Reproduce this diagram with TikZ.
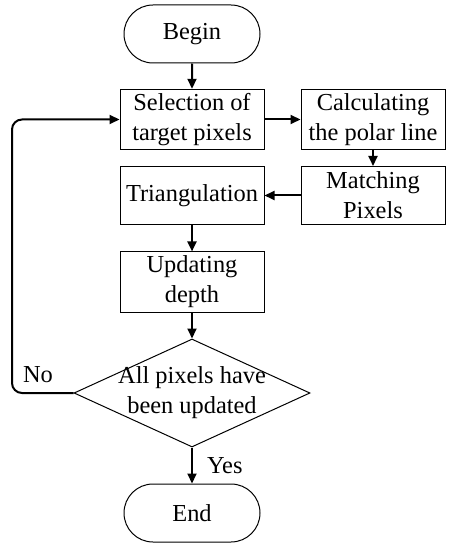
\documentclass[tikz,border=0pt]{standalone}
\usepackage{fontspec}
\setmainfont{Liberation Serif}
\usepackage{tikz}
\usetikzlibrary{arrows.meta,positioning,shapes.geometric,shapes.misc}
\definecolor{cInk}{HTML}{000000}
\tikzset{
  pbox/.style={draw=cInk,line width=0.5pt,minimum width=72pt,minimum height=29pt,align=center,font=\fontsize{12.2}{15}\selectfont,inner sep=2pt,text=cInk},
  tbox/.style={pbox,rounded rectangle},
  dbox/.style={draw=cInk,line width=0.5pt,diamond,minimum width=118pt,minimum height=54pt,inner sep=0pt},
  arr/.style={-{Triangle[length=5pt,width=4.5pt]},line width=1pt,color=cInk},
  lbl/.style={font=\fontsize{12.2}{15}\selectfont,text=cInk,inner sep=1pt},
}

\begin{document}
\begin{tikzpicture}[x=0.5pt,y=-0.5pt]
  \useasboundingbox (0,0) rectangle (454,550);
  \node[tbox] (begin) at (192,34) {Begin};
  \node[pbox] (sel) at (192,119.5) {Selection of\\target pixels};
  \node[pbox] (calc) at (373,119.5) {Calculating\\the polar line};
  \node[pbox] (match) at (373,195.5) {Matching\\Pixels};
  \node[pbox] (tri) at (192,195.5) {Triangulation};
  \node[pbox] (upd) at (192,282) {Updating\\depth};
  \node[dbox,label={[lbl,align=center]center:All pixels have\\been updated}] (check) at (192,393) {};
  \node[tbox] (end) at (192,513) {End};
  \coordinate (back) at (12,393);
  \node[lbl] (no) at (38,375) {No};
  \draw[arr] (begin) -- (sel);
  \draw[arr] (sel) -- (calc);
  \draw[arr] (calc) -- (match);
  \draw[arr] (match) -- (tri);
  \draw[arr] (tri) -- (upd);
  \draw[arr] (upd) -- (check);
  \draw[arr] (check) -- node[lbl,right=6pt] (yes) {Yes} (end);
  \draw[arr,rounded corners=5pt] (check.west) -- (back) |- (sel.west);
\end{tikzpicture}
\end{document}
